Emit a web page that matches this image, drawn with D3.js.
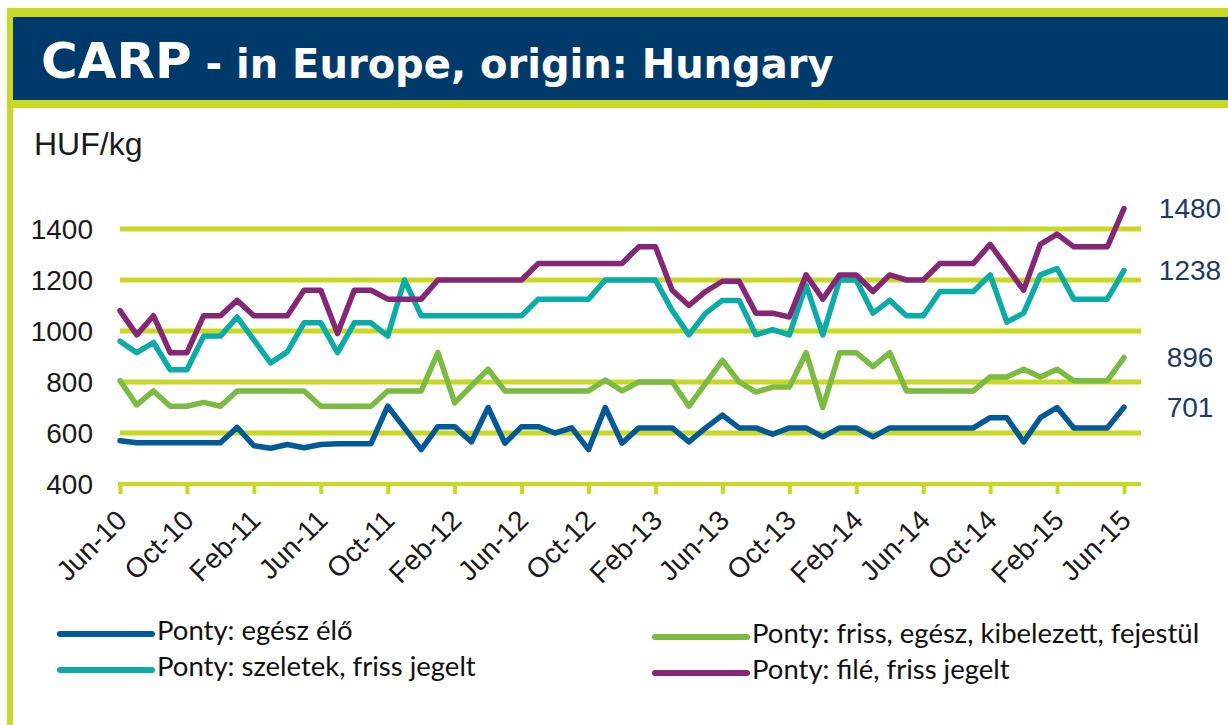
<!DOCTYPE html>
<html>
<head>
  <meta charset="UTF-8">
  <style>
    body {
      margin: 0;
      padding: 0;
      background-color: white;
    }
    svg {
      display: block;
    }
  </style>
</head>
<body>
<svg></svg>
<script src="https://d3js.org/d3.v7.min.js"></script>
<script>
let width = 1228, height = 725;

// months Jun-10 .. Jun-15
let months = [
  "2010-06","2010-07","2010-08","2010-09","2010-10","2010-11","2010-12",
  "2011-01","2011-02","2011-03","2011-04","2011-05","2011-06","2011-07","2011-08","2011-09","2011-10","2011-11","2011-12",
  "2012-01","2012-02","2012-03","2012-04","2012-05","2012-06","2012-07","2012-08","2012-09","2012-10","2012-11","2012-12",
  "2013-01","2013-02","2013-03","2013-04","2013-05","2013-06","2013-07","2013-08","2013-09","2013-10","2013-11","2013-12",
  "2014-01","2014-02","2014-03","2014-04","2014-05","2014-06","2014-07","2014-08","2014-09","2014-10","2014-11","2014-12",
  "2015-01","2015-02","2015-03","2015-04","2015-05","2015-06"
];

let tickMonths = ["2010-06","2010-10","2011-02","2011-06","2011-10","2012-02","2012-06","2012-10",
                  "2013-02","2013-06","2013-10","2014-02","2014-06","2014-10","2015-02","2015-06"];
let tickLabels = ["Jun-10","Oct-10","Feb-11","Jun-11","Oct-11","Feb-12","Jun-12","Oct-12",
                  "Feb-13","Jun-13","Oct-13","Feb-14","Jun-14","Oct-14","Feb-15","Jun-15"];

let yTicks = [400, 600, 800, 1000, 1200, 1400];

// Ponty: egész élő
let egeszElo = [
  570, 562, 562, 562, 562, 562, 562, 622, 550, 540,
  555, 542, 555, 558, 558, 558, 705, 620, 535, 625,
  625, 565, 700, 560, 625, 625, 600, 620, 535, 700,
  560, 620, 620, 620, 565, 620, 670, 620, 620, 595,
  620, 620, 585, 620, 620, 585, 620, 620, 620, 620,
  620, 620, 660, 660, 565, 660, 700, 620, 620, 620,
  701
];

// Ponty: friss, egész, kibelezett, fejestül
let frissEgesz = [
  805, 710, 765, 705, 705, 720, 705, 765, 765, 765,
  765, 765, 705, 705, 705, 705, 765, 765, 765, 915,
  718, 785, 850, 765, 765, 765, 765, 765, 765, 808,
  765, 800, 800, 800, 705, 795, 885, 800, 760, 780,
  780, 915, 700, 915, 915, 860, 915, 765, 765, 765,
  765, 765, 820, 820, 850, 820, 850, 805, 805, 805,
  896
];

// Ponty: szeletek, friss jegelt
let szeletek = [
  960, 915, 955, 848, 848, 980, 980, 1055, 965, 875,
  918, 1032, 1032, 915, 1032, 1032, 980, 1200, 1060, 1060,
  1060, 1060, 1060, 1060, 1060, 1125, 1125, 1125, 1125, 1200,
  1200, 1200, 1200, 1080, 985, 1070, 1120, 1120, 985, 1005,
  985, 1180, 985, 1200, 1200, 1070, 1120, 1060, 1060, 1155,
  1155, 1155, 1220, 1035, 1070, 1220, 1245, 1125, 1125, 1125,
  1238
];

// Ponty: filé, friss jegelt
let file = [
  1080, 985, 1060, 915, 915, 1060, 1060, 1120, 1060, 1060,
  1060, 1160, 1160, 990, 1160, 1160, 1125, 1125, 1125, 1200,
  1200, 1200, 1200, 1200, 1200, 1265, 1265, 1265, 1265, 1265,
  1265, 1330, 1330, 1160, 1100, 1155, 1195, 1195, 1070, 1070,
  1055, 1220, 1125, 1220, 1220, 1155, 1220, 1200, 1200, 1265,
  1265, 1265, 1340, 1250, 1160, 1340, 1380, 1330, 1330, 1330,
  1480
];

let seriesNames = ["Ponty: egész élő", "Ponty: friss, egész, kibelezett, fejestül",
                   "Ponty: szeletek, friss jegelt", "Ponty: filé, friss jegelt"];
let seriesColors = ["#035a98", "#79bc3f", "#0aaca7", "#862677"];

let series = [egeszElo, frissEgesz, szeletek, file].map((vals, i) => ({
    name: seriesNames[i],
    color: seriesColors[i],
    values: vals
}));

let lime = "#c9d923";
let navy = "#003a6b";

let svg = d3.select("svg")
    .attr("width", width)
    .attr("height", height);

// frame + header
svg.append("rect").attr("x", 7).attr("y", 8).attr("width", width - 7).attr("height", height).attr("fill", lime);
svg.append("rect").attr("x", 13).attr("y", 108).attr("width", width - 13).attr("height", height).attr("fill", "white");
svg.append("rect").attr("x", 13).attr("y", 17).attr("width", width - 13).attr("height", 83).attr("fill", navy);

let title = svg.append("text")
    .attr("x", 41)
    .attr("y", 78)
    .attr("fill", "white")
    .style("font-family", "'DejaVu Sans', Verdana, sans-serif")
    .style("font-weight", "bold");
title.append("tspan").style("font-size", "50px").text("CARP");
title.append("tspan").style("font-size", "40px").text(" - in Europe, origin: Hungary");

svg.append("text")
    .attr("x", 34)
    .attr("y", 155)
    .attr("fill", "#1a1a1a")
    .style("font-family", "'Liberation Sans', Arial, sans-serif")
    .style("font-size", "32px")
    .text("HUF/kg");

// scales
let x = d3.scalePoint()
    .domain(months)
    .range([120, 1124]);

let y = d3.scaleLinear()
    .domain([400, 1400])
    .range([484, 229]);

// gridlines
svg.append("g")
    .selectAll("line")
    .data(yTicks.filter(d => d > 400))
    .enter()
    .append("line")
    .attr("x1", 120)
    .attr("x2", 1141)
    .attr("y1", d => y(d))
    .attr("y2", d => y(d))
    .attr("stroke", lime)
    .attr("stroke-width", 5);

// y labels
svg.append("g")
    .selectAll("text")
    .data(yTicks)
    .enter()
    .append("text")
    .attr("x", 93)
    .attr("y", d => y(d))
    .attr("dy", "0.35em")
    .attr("text-anchor", "end")
    .attr("fill", "#1a1a1a")
    .style("font-family", "'Liberation Sans', Arial, sans-serif")
    .style("font-size", "28px")
    .text(d => d);

// x axis
let xAxis = d3.axisBottom(x)
    .tickValues(tickMonths)
    .tickSize(10)
    .tickSizeOuter(0)
    .tickFormat((d, i) => tickLabels[i]);

let gx = svg.append("g")
    .attr("transform", "translate(0," + y(400) + ")")
    .call(xAxis);

gx.select(".domain")
    .attr("d", "M118,0H1141")
    .attr("stroke", lime)
    .attr("stroke-width", 4);

gx.selectAll(".tick line")
    .attr("stroke", lime)
    .attr("stroke-width", 4);

gx.selectAll(".tick text")
    .attr("fill", "#1a1a1a")
    .style("font-family", "'Liberation Sans', Arial, sans-serif")
    .style("font-size", "28px")
    .attr("text-anchor", "end")
    .attr("x", 0)
    .attr("y", 0)
    .attr("dy", 0)
    .attr("transform", "translate(8,38) rotate(-45)");

// lines
let line = d3.line()
    .x((d, i) => x(months[i]))
    .y(d => y(d));

svg.append("g")
    .selectAll("path")
    .data(series)
    .enter()
    .append("path")
    .attr("d", d => line(d.values))
    .attr("fill", "none")
    .attr("stroke", d => d.color)
    .attr("stroke-width", 5.5)
    .attr("stroke-linejoin", "round")
    .attr("stroke-linecap", "round");

// end value labels
svg.append("g")
    .selectAll("text")
    .data(series)
    .enter()
    .append("text")
    .attr("x", 1190)
    .attr("y", d => y(d.values[d.values.length - 1]))
    .attr("dy", "0.35em")
    .attr("text-anchor", "middle")
    .attr("fill", "#1b3a66")
    .style("font-family", "'Liberation Sans', Arial, sans-serif")
    .style("font-size", "28px")
    .text(d => d.values[d.values.length - 1]);

// legend: row-wise, two columns
let legendPos = [
    {x: 60, y: 640},
    {x: 655, y: 643},
    {x: 60, y: 676},
    {x: 655, y: 679}
];

let legend = svg.append("g")
    .selectAll("g")
    .data(series)
    .enter()
    .append("g")
    .attr("transform", (d, i) => "translate(" + legendPos[i].x + "," + legendPos[i].y + ")");

legend.append("line")
    .attr("x1", 0)
    .attr("x2", 92)
    .attr("y1", -6)
    .attr("y2", -6)
    .attr("stroke", d => d.color)
    .attr("stroke-width", 6)
    .attr("stroke-linecap", "round");

legend.append("text")
    .attr("x", 97)
    .attr("y", 0)
    .attr("fill", "#111")
    .style("font-family", "Lato, 'Open Sans', sans-serif")
    .style("font-size", "27.5px")
    .text(d => d.name);
</script>
</body>
</html>
